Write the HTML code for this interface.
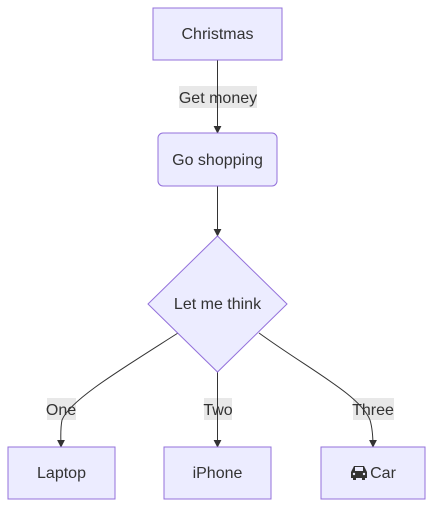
<!DOCTYPE html>
<html><head><style>
body{margin:0;background:#fff;}
svg{display:block;font-family:"Liberation Sans",sans-serif;}
</style></head><body>
<svg width="441" height="518" viewBox="0 0 441 518">
<defs><marker id="a" viewBox="0 0 10 10" refX="9" refY="5" markerWidth="8" markerHeight="8" orient="auto"><path d="M0,0L10,5L0,10z" fill="#333"/></marker></defs>
<g fill="#e8e8e8">
<rect x="179" y="86" width="78" height="22"/>
<rect x="47" y="398" width="29" height="22"/>
<rect x="204" y="398" width="28" height="22"/>
<rect x="353" y="398" width="41" height="22"/>
</g>
<g stroke="#333" stroke-width="1" fill="none" marker-end="url(#a)">
<path d="M217.5,60V133"/>
<path d="M217.5,186V236"/>
<path d="M178,333C120,370 70,400 62,420C60,430 61,440 61,447"/>
<path d="M217.5,372V447"/>
<path d="M259,333C310,370 360,395 370,420C373,430 373,440 373,447"/>
</g>
<g fill="#ececff" stroke="#9370db" stroke-width="1">
<rect x="153" y="8" width="129" height="52"/>
<rect x="158" y="133" width="119" height="53" rx="5"/>
<path d="M217.5,236L287,304L217.5,372L148,304Z"/>
<rect x="8" y="447" width="107" height="52"/>
<rect x="164" y="447" width="107" height="52"/>
<rect x="321" y="447" width="104" height="52"/>
</g>
<g fill="#333" font-size="16" text-anchor="middle">
<text x="217.5" y="39">Christmas</text>
<text x="218" y="103">Get money</text>
<text x="217.5" y="165">Go shopping</text>
<text x="217.5" y="309">Let me think</text>
<text x="61" y="415">One</text>
<text x="218" y="415">Two</text>
<text x="373" y="415">Three</text>
<text x="61.5" y="478">Laptop</text>
<text x="217.5" y="478">iPhone</text>
<text x="383" y="478">Car</text>
</g>
<g fill="#333">
<path d="M351,478v-6l3,-6h10l3,6v6h-2v2h-3v-2h-6v2h-3v-2z"/>
<rect x="355" y="467" width="8" height="4" fill="#ececff"/>
<circle cx="354" cy="474" r="1.2" fill="#ececff"/><circle cx="364" cy="474" r="1.2" fill="#ececff"/>
</g>
</svg>
</body></html>
